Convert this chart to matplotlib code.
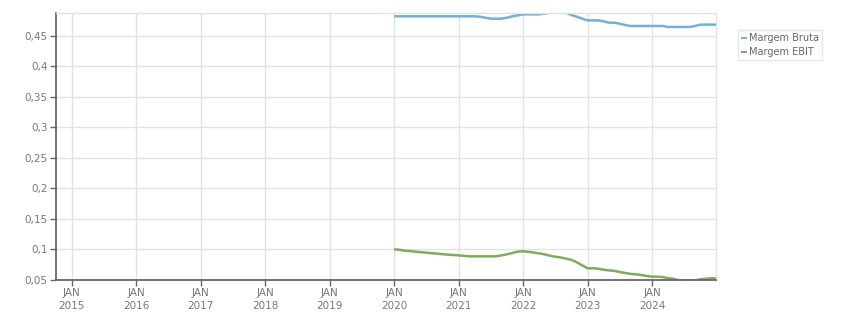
import matplotlib
matplotlib.use("Agg")
import matplotlib.pyplot as plt
import numpy as np
import pandas as pd

months = pd.date_range("2020-01-01", "2025-01-01", freq="MS")

margem_bruta = [
    0.4823, 0.4823, 0.4823, 0.4823, 0.4823, 0.4823, 0.4823, 0.4823, 0.4823, 0.4823, 0.4823, 0.4823,
    0.4823, 0.4823, 0.4823, 0.4823, 0.4816, 0.4800, 0.4784, 0.4784, 0.4784, 0.4800, 0.4822, 0.4838,
    0.4855, 0.4855, 0.4855, 0.4855, 0.4866, 0.4880, 0.4900, 0.4900, 0.4880, 0.4845, 0.4816, 0.4785,
    0.4756, 0.4756, 0.4756, 0.4740, 0.4718, 0.4718, 0.4702, 0.4680, 0.4664, 0.4664, 0.4664, 0.4664,
    0.4664, 0.4664, 0.4664, 0.4648, 0.4648, 0.4648, 0.4648, 0.4648, 0.4664, 0.4686, 0.4686, 0.4686,
    0.4686,
]
margem_ebit = [
    0.1003, 0.0995, 0.0981, 0.0975, 0.0964, 0.0956, 0.0948, 0.0940, 0.0932, 0.0924, 0.0915, 0.0910,
    0.0904, 0.0896, 0.0888, 0.0888, 0.0888, 0.0888, 0.0888, 0.0888, 0.0904, 0.0921, 0.0943, 0.0965,
    0.0970, 0.0962, 0.0950, 0.0937, 0.0921, 0.0899, 0.0882, 0.0870, 0.0850, 0.0830, 0.0790, 0.0740,
    0.0692, 0.0692, 0.0685, 0.0669, 0.0658, 0.0650, 0.0631, 0.0615, 0.0600, 0.0593, 0.0582, 0.0565,
    0.0555, 0.0555, 0.0548, 0.0530, 0.0520, 0.0495, 0.0485, 0.0485, 0.0495, 0.0511, 0.0520, 0.0528,
    0.0530,
]
series_names = ["Margem Bruta", "Margem EBIT"]
series_colors = ["#72b1d7", "#7dac5b"]
y_ticks = [0.05, 0.1, 0.15, 0.2, 0.25, 0.3, 0.35, 0.4, 0.45]
y_tick_labels = ["0,05", "0,1", "0,15", "0,2", "0,25", "0,3", "0,35", "0,4", "0,45"]
x_years = list(range(2015, 2025))
x_tick_labels = [f"JAN\n{y}" for y in x_years]

plt.rcParams['font.family'] = ['DejaVu Sans']
fig = plt.figure(figsize=(8.51, 3.13), dpi=100)
ax = fig.add_axes([56 / 851, 1 - 280 / 313, (716 - 56) / 851, (280 - 13) / 313])

for vals, name, col in zip([margem_bruta, margem_ebit], series_names, series_colors):
    ax.plot(months, vals, color=col, lw=1.8, label=name, solid_capstyle="butt")

ax.set_xlim(pd.Timestamp("2014-10-04"), pd.Timestamp("2024-12-28"))
ax.set_ylim(0.05, 0.4877)

xt = [pd.Timestamp(f"{y}-01-01") for y in x_years]
ax.set_xticks(xt)
ax.set_xticklabels(x_tick_labels, fontsize=7.5, color="#777777", linespacing=1.35)
ax.set_yticks(y_ticks)
ax.set_yticklabels(y_tick_labels, fontsize=7.5, color="#777777")

ax.grid(True, color="#e2e2e2", lw=1.0)
ax.set_axisbelow(True)
for s in ["top", "right"]:
    ax.spines[s].set_color("#e2e2e2")
    ax.spines[s].set_linewidth(1.0)
for s in ["left", "bottom"]:
    ax.spines[s].set_color("#666666")
    ax.spines[s].set_linewidth(1.3)
ax.tick_params(axis="both", length=4, width=1, color="#666666", pad=2)

leg = ax.legend(loc="upper left", bbox_to_anchor=(738 / 851, 1 - 30 / 313), bbox_transform=fig.transFigure,
                fontsize=7, frameon=True, fancybox=False, handlelength=0.6, handletextpad=0.25,
                borderpad=0.3, labelspacing=0.45, borderaxespad=0)
leg.get_frame().set_edgecolor("#e0e0e0")
leg.get_frame().set_linewidth(1.0)
for line in leg.get_lines():
    line.set_linewidth(1.5)
for t in leg.get_texts():
    t.set_color("#666666")

fig.savefig("out.png", dpi=100)
